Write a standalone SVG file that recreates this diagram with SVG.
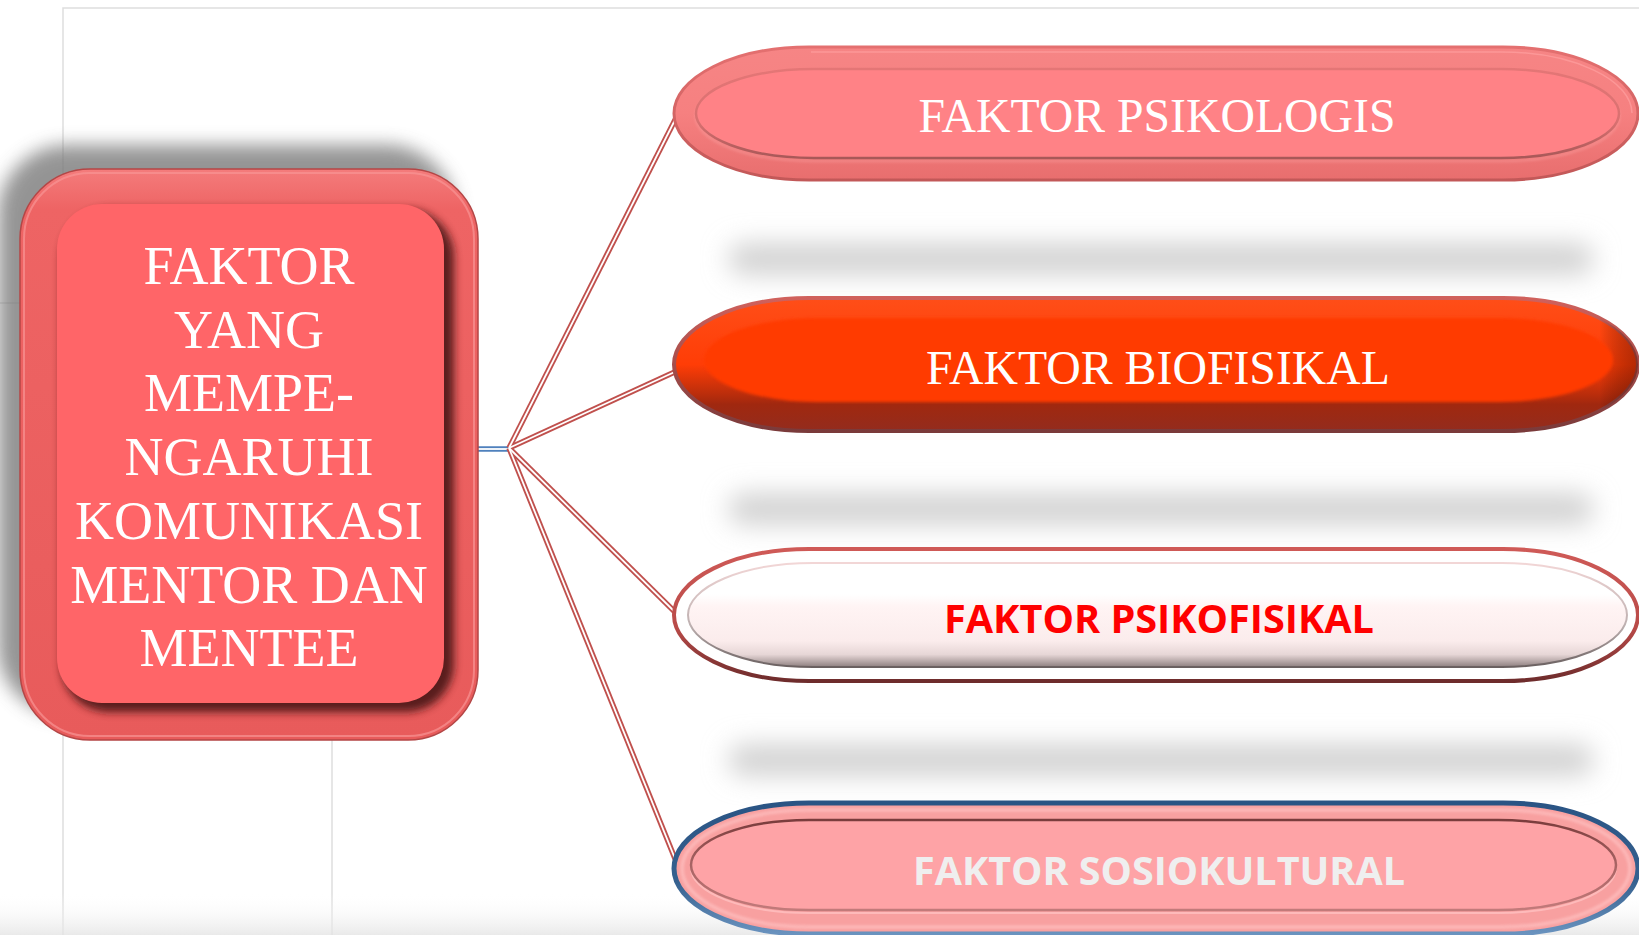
<svg xmlns="http://www.w3.org/2000/svg" width="1639" height="935" viewBox="0 0 1639 935">
  <style>
    .serif{font-family:"Liberation Serif","Times New Roman",serif;fill:#ffffff;text-anchor:middle}
    .sans{font-family:"Open Sans","Liberation Sans",sans-serif;font-weight:700;text-anchor:middle}
    .frame{stroke:#dedede;stroke-width:1.5;fill:none}
    .wire-o{stroke:#C0504D;stroke-width:5.5;fill:none}
    .wire-i{stroke:#ffffff;stroke-width:1.8;fill:none}
    .blue-o{stroke:#4F81BD;stroke-width:5.5;fill:none}
  </style>
  <defs>
    <filter id="blurBig" x="-20%" y="-20%" width="140%" height="140%">
      <feGaussianBlur stdDeviation="9"/>
    </filter>
    <filter id="blurBand" x="-10%" y="-150%" width="120%" height="400%">
      <feGaussianBlur stdDeviation="13"/>
    </filter>
    <filter id="blurSoft" x="-10%" y="-10%" width="120%" height="120%">
      <feGaussianBlur stdDeviation="4"/>
    </filter>
    <filter id="blurTiny" x="-5%" y="-20%" width="110%" height="140%">
      <feGaussianBlur stdDeviation="1.5"/>
    </filter>

    <linearGradient id="rimGrad" x1="0" y1="0" x2="0" y2="1">
      <stop offset="0" stop-color="#F47C7C"/>
      <stop offset="0.07" stop-color="#EE6464"/>
      <stop offset="1" stop-color="#E85B5B"/>
    </linearGradient>
    <linearGradient id="hazeGrad" x1="0" y1="0" x2="0" y2="1">
      <stop offset="0" stop-color="#ffffff" stop-opacity="0"/>
      <stop offset="1" stop-color="#e4e4e4" stop-opacity="1"/>
    </linearGradient>

    <linearGradient id="p1Outer" x1="0" y1="0" x2="0" y2="1">
      <stop offset="0" stop-color="#F68585"/>
      <stop offset="0.5" stop-color="#F68080"/>
      <stop offset="1" stop-color="#E86E6E"/>
    </linearGradient>
    <linearGradient id="p1Edge" x1="0" y1="0" x2="0" y2="1">
      <stop offset="0" stop-color="#E47070"/>
      <stop offset="1" stop-color="#C25858"/>
    </linearGradient>
    <linearGradient id="p1InStroke" x1="0" y1="0" x2="0" y2="1">
      <stop offset="0" stop-color="#E47676"/>
      <stop offset="0.6" stop-color="#D87070"/>
      <stop offset="1" stop-color="#A85858"/>
    </linearGradient>

    <linearGradient id="p2Outer" x1="0" y1="0" x2="0" y2="1">
      <stop offset="0" stop-color="#FF4E18"/>
      <stop offset="0.5" stop-color="#FF3D06"/>
      <stop offset="0.74" stop-color="#B52C0C"/>
      <stop offset="0.8" stop-color="#A0280F"/>
      <stop offset="1" stop-color="#932C1E"/>
    </linearGradient>
    <linearGradient id="p2Side" x1="0" y1="0" x2="1" y2="0">
      <stop offset="0" stop-color="#000" stop-opacity="0"/>
      <stop offset="0.96" stop-color="#000" stop-opacity="0"/>
      <stop offset="1" stop-color="#5a1000" stop-opacity="0.45"/>
    </linearGradient>
    <linearGradient id="p2Edge" x1="0" y1="0" x2="0" y2="1">
      <stop offset="0" stop-color="#D0615C"/>
      <stop offset="1" stop-color="#7A3A3A"/>
    </linearGradient>

    <linearGradient id="p3Edge" x1="0" y1="0" x2="0" y2="1">
      <stop offset="0" stop-color="#CF5A57"/>
      <stop offset="0.6" stop-color="#B84A48"/>
      <stop offset="1" stop-color="#6E2C2C"/>
    </linearGradient>
    <linearGradient id="p3Inner" x1="0" y1="0" x2="0" y2="1">
      <stop offset="0" stop-color="#ffffff"/>
      <stop offset="0.3" stop-color="#ffffff"/>
      <stop offset="0.42" stop-color="#FFF4F4"/>
      <stop offset="0.75" stop-color="#FBECEC"/>
      <stop offset="0.88" stop-color="#E6D6D6"/>
      <stop offset="1" stop-color="#8E8080"/>
    </linearGradient>
    <linearGradient id="p3InStroke" x1="0" y1="0" x2="0" y2="1">
      <stop offset="0" stop-color="#F2D6D6"/>
      <stop offset="0.6" stop-color="#BDB0B0"/>
      <stop offset="1" stop-color="#6A6060"/>
    </linearGradient>

    <linearGradient id="p4Edge" x1="0" y1="0" x2="0" y2="1">
      <stop offset="0" stop-color="#2A5484"/>
      <stop offset="0.6" stop-color="#36618F"/>
      <stop offset="1" stop-color="#6A93BF"/>
    </linearGradient>
    <linearGradient id="p4InStroke" x1="0" y1="0" x2="0" y2="1">
      <stop offset="0" stop-color="#7A3C3C"/>
      <stop offset="0.5" stop-color="#A86464"/>
      <stop offset="1" stop-color="#C27A7A"/>
    </linearGradient>
  </defs>

  <!-- page background and faint layout guides -->
  <rect x="0" y="0" width="1639" height="935" fill="#ffffff"/>
  <g id="guides">
    <path class="frame" d="M63 935V8H1639"/>
    <path class="frame" d="M0 303H63"/>
    <path class="frame" d="M332 700V935"/>
    <rect x="0" y="893" width="1639" height="42" fill="url(#hazeGrad)" opacity="0.8"/>
  </g>

  <!-- drop bands under the pills -->
  <g id="pill-shadows" fill="#d2d2d2">
    <rect x="728" y="243" width="866" height="32" rx="16" filter="url(#blurBand)"/>
    <rect x="728" y="493" width="866" height="32" rx="16" filter="url(#blurBand)"/>
    <rect x="728" y="744" width="866" height="32" rx="16" filter="url(#blurBand)"/>
  </g>

  <!-- connectors -->
  <g id="connectors">
    <path class="blue-o" d="M478 449H509"/>
    <path class="wire-i" d="M478 449H509"/>
    <g>
      <path class="wire-o" d="M509 448L679 112"/>
      <path class="wire-o" d="M509 448L679 370"/>
      <path class="wire-o" d="M509 448L679 616"/>
      <path class="wire-o" d="M509 448L680 871"/>
      <path class="wire-i" d="M509 448L679 112"/>
      <path class="wire-i" d="M509 448L679 370"/>
      <path class="wire-i" d="M509 448L679 616"/>
      <path class="wire-i" d="M509 448L680 871"/>
    </g>
  </g>

  <!-- central node -->
  <g id="node-center">
    <rect x="-2" y="145" width="458" height="571" rx="70" fill="#7a7a7a" opacity="0.8" filter="url(#blurBig)"/>
    <rect x="20" y="169" width="458" height="571" rx="70" fill="url(#rimGrad)" stroke="#B44646" stroke-width="1.5"/>
    <rect x="24" y="173" width="450" height="563" rx="66" fill="none" stroke="#F89494" stroke-width="2" opacity="0.7"/>
    <rect x="61" y="209" width="393" height="503" rx="48" fill="#4a1616" opacity="0.9" filter="url(#blurSoft)"/>
    <rect x="57" y="204" width="387" height="499" rx="45" fill="#FF6568"/>
    <g class="serif" font-size="54">
      <text x="249" y="284">FAKTOR</text>
      <text x="249" y="347.7">YANG</text>
      <text x="249" y="411.4">MEMPE-</text>
      <text x="249" y="475.1">NGARUHI</text>
      <text x="249" y="538.8">KOMUNIKASI</text>
      <text x="249" y="602.5">MENTOR DAN</text>
      <text x="249" y="666.2">MENTEE</text>
    </g>
  </g>

  <!-- factor 1 -->
  <g id="node-psikologis">
    <path d="M809 47H1503A135 66.5 0 0 1 1503 180H809A135 66.5 0 0 1 809 47Z" fill="url(#p1Outer)" stroke="url(#p1Edge)" stroke-width="3"/>
    <path d="M811 52H1501A131 61.5 0 0 1 1632 113" fill="none" stroke="#FFA0A0" stroke-width="1.5" opacity="0.7"/>
    <path d="M814 72H1501A118 44.5 0 0 1 1501 161H814A118 44.5 0 0 1 814 72Z" fill="none" stroke="#FFB0B0" stroke-width="1.5" opacity="0.6" filter="url(#blurTiny)"/>
    <path d="M814 69H1501A118 44.5 0 0 1 1501 158H814A118 44.5 0 0 1 814 69Z" fill="#FF8286" stroke="url(#p1InStroke)" stroke-width="2.5"/>
    <text class="serif" x="1157" y="132" font-size="48" textLength="477" lengthAdjust="spacingAndGlyphs">FAKTOR PSIKOLOGIS</text>
  </g>

  <!-- factor 2 -->
  <g id="node-biofisikal">
    <path d="M809 298H1503A135 66.5 0 0 1 1503 431H809A135 66.5 0 0 1 809 298Z" fill="url(#p2Outer)" stroke="url(#p2Edge)" stroke-width="4"/>
    <path d="M809 298H1503A135 66.5 0 0 1 1503 431H809A135 66.5 0 0 1 809 298Z" fill="url(#p2Side)"/>
    <path d="M819 318H1498A115 42 0 0 1 1498 402H819A115 42 0 0 1 819 318Z" fill="#FF3A02" filter="url(#blurTiny)"/>
    <text class="serif" x="1158" y="384" font-size="48" textLength="464" lengthAdjust="spacingAndGlyphs">FAKTOR BIOFISIKAL</text>
  </g>

  <!-- factor 3 -->
  <g id="node-psikofisikal">
    <path d="M809 549H1503A135 66 0 0 1 1503 681H809A135 66 0 0 1 809 549Z" fill="#ffffff" stroke="url(#p3Edge)" stroke-width="4"/>
    <path d="M813 563H1502A125 52 0 0 1 1502 667H813A125 52 0 0 1 813 563Z" fill="url(#p3Inner)" stroke="url(#p3InStroke)" stroke-width="2"/>
    <text class="sans" x="1159" y="633" font-size="40" fill="#FF0000" textLength="430" lengthAdjust="spacingAndGlyphs">FAKTOR PSIKOFISIKAL</text>
  </g>

  <!-- factor 4 -->
  <g id="node-sosiokultural">
    <path d="M809 803H1503A135 65.5 0 0 1 1503 934H809A135 65.5 0 0 1 809 803Z" fill="#F8A0A0" stroke="url(#p4Edge)" stroke-width="5"/>
    <path d="M810 810H1502A128 58.5 0 0 1 1502 927H810A128 58.5 0 0 1 810 810Z" fill="none" stroke="#FFC4C4" stroke-width="3" opacity="0.8" filter="url(#blurTiny)"/>
    <path d="M809 823H1498A118 45 0 0 1 1498 913H809A118 45 0 0 1 809 823Z" fill="none" stroke="#FFC0C0" stroke-width="2" opacity="0.8"/>
    <path d="M809 820H1498A118 45 0 0 1 1498 910H809A118 45 0 0 1 809 820Z" fill="#FEA3A6" stroke="url(#p4InStroke)" stroke-width="2.5"/>
    <text class="sans" x="1159" y="885" font-size="40" fill="#EFEFEF" textLength="492" lengthAdjust="spacingAndGlyphs">FAKTOR SOSIOKULTURAL</text>
  </g>
</svg>
